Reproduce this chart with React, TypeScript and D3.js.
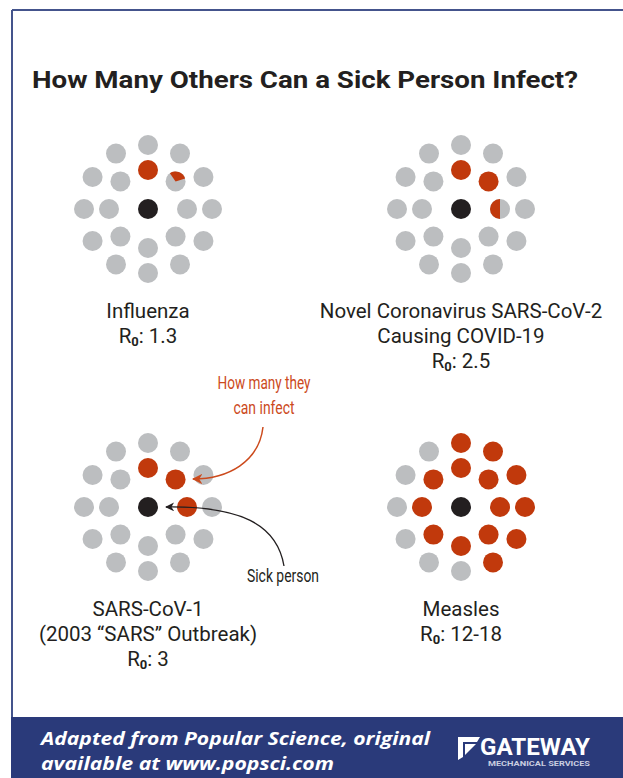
import React from "react";
import * as d3 from "d3";

// ---------- data ----------
const diseaseLines: string[][] = [
  ["Influenza"],
  ["Novel Coronavirus SARS-CoV-2", "Causing COVID-19"],
  ["SARS-CoV-1", "(2003 “SARS” Outbreak)"],
  ["Measles"],
];
const r0Labels = ["1.3", "2.5", "3", "12-18"];
const infectedDots = [1.3, 2.5, 3, 14];
const gridCol = [0, 1, 0, 1];
const gridRow = [0, 0, 1, 1];
const ringCounts = [8, 12];
const partialStartDeg = [-35, 180, 0, 0];

const titleText = "How Many Others Can a Sick Person Infect?";
const annoInfect = ["How many they", "can infect"];
const annoInfectWidth = [93, 61];
const annoSick = "Sick person";
const footerLines = ["Adapted from Popular Science, original", "available at www.popsci.com"];
const footerWidths = [389, 293];

// ---------- style ----------
const W = 623, H = 778;
const GRAY = "#bcbec0", RED = "#c1390c", BLACK = "#231f20", ORANGE = "#cc4a1c";
const NAVY = "#2a3a7a", BORDER = "#44548c";
const FONT = "Roboto, 'DejaVu Sans', sans-serif";
const DOT_R = 10;
const LABEL_SIZE = 20.5;

const xCol = d3.scalePoint<number>().domain([0, 1]).range([148, 461]);
const yRow = d3.scalePoint<number>().domain([0, 1]).range([209, 507]);
const ringRadius = d3.scaleOrdinal<number, number>().domain([0, 1]).range([39, 64]);

type Dot = { x: number; y: number; fill: number; ring: number };

function buildDots(cx: number, cy: number, value: number): Dot[] {
  const dots: Dot[] = [];
  let remaining = value;
  ringCounts.forEach((n, ring) => {
    const ang = d3.scaleLinear().domain([0, n]).range([0, 2 * Math.PI]);
    const r = ringRadius(ring);
    d3.range(n).forEach((i) => {
      const a = ang(i);
      const f = Math.max(0, Math.min(1, remaining));
      remaining -= f;
      dots.push({ x: cx + r * Math.sin(a), y: cy - r * Math.cos(a), fill: f, ring });
    });
  });
  return dots;
}

const arcGen = d3.arc<any>().innerRadius(0).outerRadius(DOT_R);

function R0Text({ x, y, value }: { x: number; y: number; value: string }) {
  return (
    <text x={x} y={y} textAnchor="middle" fontFamily={FONT} fontSize={LABEL_SIZE} fill={BLACK}>
      <tspan>R</tspan>
      <tspan fontSize={13} fontWeight={700} dy={3}>0</tspan>
      <tspan dy={-3}>{": " + value}</tspan>
    </text>
  );
}

export default function App() {
  const orangePath = d3.path();
  orangePath.moveTo(263, 427);
  orangePath.bezierCurveTo(259, 462, 228, 479, 193, 479);
  const blackPath = d3.path();
  blackPath.moveTo(284, 566);
  blackPath.bezierCurveTo(277, 524, 240, 506, 166, 507);

  return (
    <svg width={W} height={H} style={{ position: "absolute", left: 0, top: 0, background: "#fff" }}>
      <defs>
        <marker id="arrOrange" viewBox="0 0 10 10" refX="9" refY="5" markerWidth="7" markerHeight="7" orient="auto">
          <path d="M0,0 L10,5 L0,10 L3,5 z" fill={ORANGE} />
        </marker>
        <marker id="arrBlack" viewBox="0 0 10 10" refX="9" refY="5" markerWidth="7" markerHeight="7" orient="auto">
          <path d="M0,0 L10,5 L0,10 L3,5 z" fill={BLACK} />
        </marker>
      </defs>

      {/* frame */}
      <line x1={12} x2={W} y1={10} y2={10} stroke={BORDER} strokeWidth={2} />
      <line x1={12} x2={12} y1={10} y2={718} stroke={BORDER} strokeWidth={2} />

      {/* title */}
      <text x={32} y={88} fontFamily={FONT} fontWeight={700} fontSize={24} fill={BLACK}
        textLength={546} lengthAdjust="spacingAndGlyphs">{titleText}</text>

      {/* clusters */}
      {infectedDots.map((v, k) => {
        const cx = xCol(gridCol[k])!;
        const cy = yRow(gridRow[k])!;
        const dots = buildDots(cx, cy, v);
        return (
          <g key={k}>
            <circle cx={cx} cy={cy} r={DOT_R} fill={BLACK} />
            {dots.map((d, i) => {
              if (d.fill >= 1) return <circle key={i} cx={d.x} cy={d.y} r={DOT_R} fill={RED} />;
              if (d.fill <= 0) return <circle key={i} cx={d.x} cy={d.y} r={DOT_R} fill={GRAY} />;
              const s = (partialStartDeg[k] * Math.PI) / 180;
              return (
                <g key={i} transform={`translate(${d.x},${d.y})`}>
                  <circle r={DOT_R} fill={GRAY} />
                  <path d={arcGen({ startAngle: s, endAngle: s + d.fill * 2 * Math.PI })!} fill={RED} />
                </g>
              );
            })}
            {diseaseLines[k].map((line, li) => (
              <text key={li} x={cx} y={cy + 109 + li * 25} textAnchor="middle" fontFamily={FONT}
                fontSize={LABEL_SIZE} fill={BLACK}>{line}</text>
            ))}
            <R0Text x={cx} y={cy + 109 + diseaseLines[k].length * 25} value={r0Labels[k]} />
          </g>
        );
      })}

      {/* annotations */}
      {annoInfect.map((t, i) => (
        <text key={i} x={264} y={389 + i * 25} textAnchor="middle" fontFamily={FONT} fontSize={18}
          fill={ORANGE} textLength={annoInfectWidth[i]} lengthAdjust="spacingAndGlyphs">{t}</text>
      ))}
      <path d={orangePath.toString()} fill="none" stroke={ORANGE} strokeWidth={1.5} markerEnd="url(#arrOrange)" />
      <text x={283} y={582} textAnchor="middle" fontFamily={FONT} fontSize={18} fill={BLACK}
        textLength={72} lengthAdjust="spacingAndGlyphs">{annoSick}</text>
      <path d={blackPath.toString()} fill="none" stroke={BLACK} strokeWidth={1.3} markerEnd="url(#arrBlack)" />

      {/* footer */}
      <rect x={11} y={717} width={W - 11} height={H - 717} fill={NAVY} />
      {footerLines.map((t, i) => (
        <text key={i} x={41} y={745 + i * 25} fontFamily="'Open Sans', sans-serif" fontWeight={700}
          fontStyle="italic" fontSize={18} fill="#fff" textLength={footerWidths[i]}
          lengthAdjust="spacingAndGlyphs">{t}</text>
      ))}
      <g fill="#fff">
        <path d="M458,737 L480,737 L477,742 L463,742 L463,757 L458,760 Z" />
        <path d="M465,744 L476,744 L465,755 Z" />
      </g>
      <text x={480} y={755} fontFamily={FONT} fontWeight={700} fontSize={23} fill="#fff"
        textLength={110} lengthAdjust="spacingAndGlyphs">GATEWAY</text>
      <text x={488} y={766} fontFamily={FONT} fontWeight={700} fontSize={6.5} fill="#c9cde0"
        textLength={102} lengthAdjust="spacingAndGlyphs">MECHANICAL SERVICES</text>
    </svg>
  );
}
